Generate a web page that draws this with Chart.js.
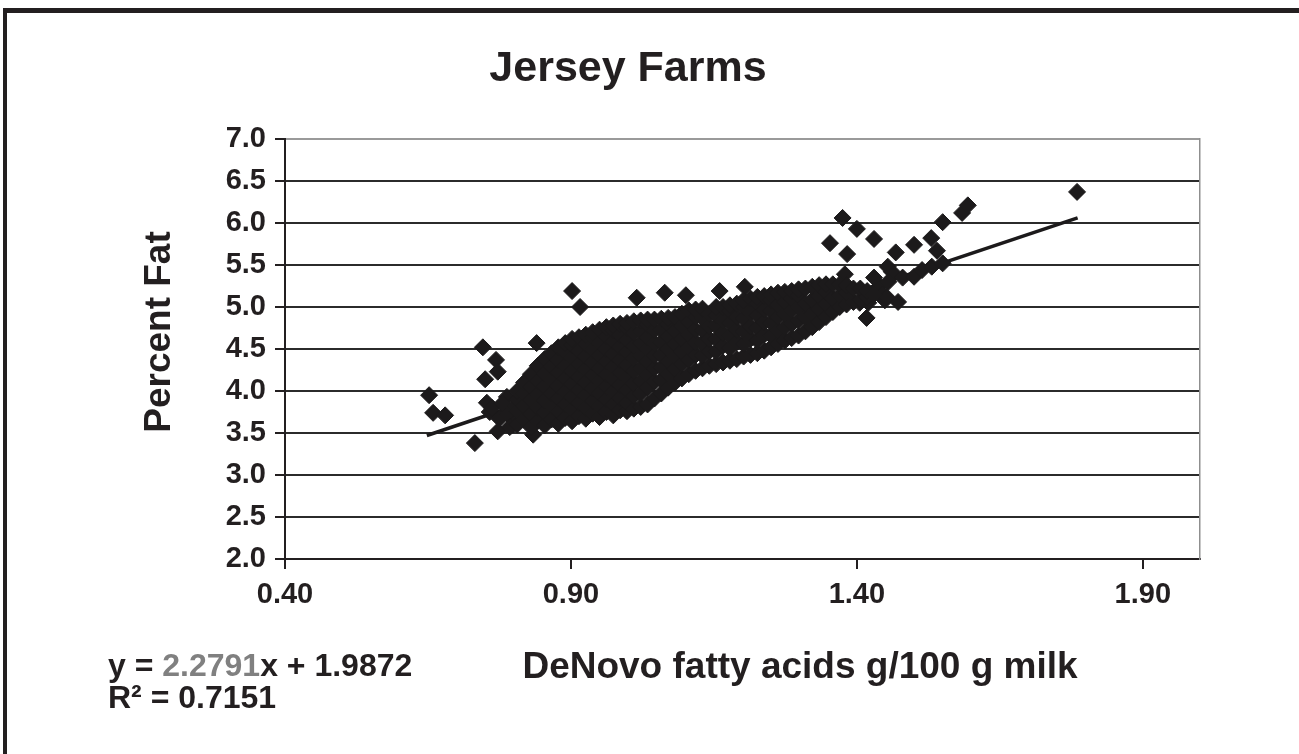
<!DOCTYPE html>
<html>
<head>
<meta charset="utf-8">
<script src="https://cdn.jsdelivr.net/npm/chart.js@4/dist/chart.umd.min.js"></script>
<style>
html,body{margin:0;padding:0;background:#fff;width:1299px;height:754px;overflow:hidden;}
#frame{position:absolute;left:3px;top:8px;width:1300px;height:741px;border-top:5px solid #231f20;border-left:4px solid #231f20;border-bottom:2px solid #6b6b6b;}
#wrap{position:absolute;left:0;top:0;width:1256px;height:754px;}
</style>
</head>
<body>
<div id="frame"></div>
<div id="wrap"><canvas id="c" width="1256" height="754"></canvas></div>
<script>
// ---------- data ----------
const chartTitle = 'Jersey Farms';
const axisTitleX = 'DeNovo fatty acids g/100 g milk';
const axisTitleY = 'Percent Fat';
const equationParts = ['y = ', '2.2791', 'x + 1.9872'];
const rSquaredText = 'R² = 0.7151';

const xTickValues = [0.40, 0.90, 1.40, 1.90];
const xRange = [0.40, 2.00];
const yRange = [2.0, 7.0];
const yTickStep = 0.5;

// trendline end points
const trendX = [0.648, 1.786];
const trendY = [3.47, 6.06];

// isolated farms (x = DeNovo g/100 g, y = % fat)
const outlierPoints = [
  [0.652,3.95],[0.659,3.74],[0.680,3.71],[0.732,3.38],[0.746,4.52],[0.769,4.37],
  [0.772,4.23],[0.750,4.14],[0.840,4.57],[0.788,3.93],[0.753,3.86],[0.758,3.75],
  [0.762,3.80],[0.775,3.67],[0.780,3.85],[0.790,3.72],[0.799,3.60],[0.803,3.82],
  [0.772,3.52],[0.793,3.57],[0.834,3.48],[0.816,3.69],
  [0.902,5.19],[0.916,5.00],[1.015,5.11],[1.064,5.17],[1.101,5.14],[1.160,5.19],[1.204,5.24],
  [1.353,5.76],[1.375,6.06],[1.383,5.63],[1.400,5.93],[1.430,5.81],[1.379,5.39],
  [1.417,4.87],[1.449,5.08],[1.405,5.05],[1.472,5.06],[1.454,5.48],[1.461,5.42],
  [1.480,5.35],[1.500,5.36],[1.514,5.44],[1.531,5.48],[1.550,5.52],[1.468,5.65],
  [1.500,5.74],[1.530,5.82],[1.540,5.67],[1.550,6.01],[1.584,6.12],[1.594,6.21],
  [1.785,6.37],[1.440,5.25],[1.430,5.35],[1.455,5.30],[1.420,5.05],[1.445,5.15],[1.452,5.12]
];

// dense band of farms, listed column by column: [x, [y values]]
const clusterColumns = [
  [0.806, [3.60, 3.76, 3.90, 4.00]],
  [0.818, [3.66, 3.82, 3.97, 4.10]],
  [0.830, [3.57, 3.73, 3.89, 4.05, 4.20]],
  [0.842, [3.64, 3.80, 3.96, 4.12, 4.30]],
  [0.854, [3.59, 3.74, 3.89, 4.05, 4.21, 4.38]],
  [0.866, [3.66, 3.82, 3.97, 4.13, 4.29, 4.45]],
  [0.878, [3.61, 3.76, 3.91, 4.06, 4.22, 4.37, 4.52]],
  [0.890, [3.68, 3.84, 3.99, 4.15, 4.30, 4.46, 4.57]],
  [0.902, [3.64, 3.78, 3.93, 4.08, 4.24, 4.40, 4.55, 4.62]],
  [0.914, [3.70, 3.86, 4.01, 4.17, 4.32, 4.48, 4.64]],
  [0.926, [3.67, 3.80, 3.95, 4.10, 4.26, 4.41, 4.56, 4.67]],
  [0.938, [3.73, 3.88, 4.03, 4.19, 4.34, 4.49, 4.64, 4.70]],
  [0.950, [3.69, 3.82, 3.97, 4.12, 4.27, 4.42, 4.57, 4.73]],
  [0.962, [3.75, 3.90, 4.05, 4.20, 4.35, 4.50, 4.65, 4.76]],
  [0.974, [3.71, 3.84, 3.99, 4.14, 4.29, 4.44, 4.59, 4.72, 4.78]],
  [0.986, [3.77, 3.92, 4.07, 4.22, 4.37, 4.52, 4.67, 4.80]],
  [0.998, [3.76, 3.86, 4.01, 4.16, 4.31, 4.46, 4.61, 4.75, 4.81]],
  [1.010, [3.79, 3.94, 4.09, 4.24, 4.39, 4.54, 4.69, 4.83]],
  [1.022, [3.81, 3.97, 4.12, 4.27, 4.42, 4.57, 4.71, 4.84]],
  [1.034, [3.84, 4.04, 4.19, 4.35, 4.50, 4.64, 4.79, 4.85]],
  [1.046, [3.91, 4.11, 4.27, 4.42, 4.57, 4.72, 4.85]],
  [1.058, [3.97, 4.13, 4.28, 4.43, 4.58, 4.73, 4.86]],
  [1.070, [4.04, 4.20, 4.35, 4.50, 4.65, 4.80, 4.87]],
  [1.082, [4.10, 4.26, 4.41, 4.56, 4.71, 4.88]],
  [1.094, [4.15, 4.32, 4.47, 4.62, 4.77, 4.92]],
  [1.106, [4.20, 4.37, 4.52, 4.67, 4.82, 4.96]],
  [1.118, [4.24, 4.43, 4.58, 4.73, 4.88, 4.97]],
  [1.130, [4.27, 4.42, 4.57, 4.72, 4.87, 4.98]],
  [1.142, [4.30, 4.47, 4.62, 4.77, 4.92]],
  [1.154, [4.32, 4.47, 4.62, 4.77, 4.90, 5.00]],
  [1.166, [4.34, 4.54, 4.69, 4.84, 5.00]],
  [1.178, [4.36, 4.51, 4.66, 4.81, 4.95, 5.02]],
  [1.190, [4.38, 4.58, 4.73, 4.88, 5.04]],
  [1.202, [4.41, 4.56, 4.71, 4.86, 5.00, 5.08]],
  [1.214, [4.43, 4.62, 4.77, 4.93, 5.10]],
  [1.226, [4.45, 4.60, 4.75, 4.90, 5.04, 5.12]],
  [1.238, [4.48, 4.67, 4.82, 4.97, 5.13]],
  [1.250, [4.52, 4.66, 4.81, 4.95, 5.08, 5.15]],
  [1.262, [4.56, 4.72, 4.88, 5.02, 5.17]],
  [1.274, [4.60, 4.76, 4.92, 5.06, 5.18]],
  [1.286, [4.63, 4.80, 4.96, 5.10, 5.19]],
  [1.298, [4.66, 4.84, 5.00, 5.14, 5.21]],
  [1.310, [4.71, 4.88, 5.04, 5.22]],
  [1.322, [4.76, 4.92, 5.08, 5.24]],
  [1.334, [4.82, 4.98, 5.13, 5.26]],
  [1.346, [4.88, 5.04, 5.18, 5.27]],
  [1.358, [4.94, 5.10, 5.27]],
  [1.370, [5.00, 5.14, 5.27]],
  [1.382, [5.03, 5.17, 5.26]],
  [1.394, [5.06, 5.22]],
  [1.406, [5.09, 5.22]],
  [1.418, [5.12, 5.19]],
  [1.430, [5.15]]
];

// ---------- build ----------
const FONT = '"Liberation Sans", Arial, Helvetica, sans-serif';
const INK = '#231f20';

const farmPoints = outlierPoints.map(([x, y]) => ({x, y}));
clusterColumns.forEach(([x, ys]) => ys.forEach(y => farmPoints.push({x, y})));
const trendPoints = trendX.map((x, i) => ({x, y: trendY[i]}));

const overlayText = {
  id: 'overlayText',
  afterDraw(chart, args, o) {
    const ctx = chart.ctx;
    ctx.save();
    ctx.fillStyle = INK;
    ctx.textBaseline = 'alphabetic';
    // x axis title
    ctx.font = 'bold ' + o.xTitle.size + 'px ' + FONT;
    ctx.textAlign = 'center';
    ctx.fillText(axisTitleX, o.xTitle.x, o.xTitle.y);
    // y axis title
    ctx.save();
    ctx.font = 'bold ' + o.yTitle.size + 'px ' + FONT;
    ctx.translate(o.yTitle.x, o.yTitle.y);
    ctx.rotate(-Math.PI / 2);
    ctx.textAlign = 'center';
    ctx.fillText(axisTitleY, 0, 0);
    ctx.restore();
    // regression equation
    ctx.font = 'bold ' + o.eq.size + 'px ' + FONT;
    ctx.textAlign = 'left';
    let x = o.eq.x;
    equationParts.forEach((t, i) => {
      ctx.fillStyle = i === 1 ? o.eq.accent : INK;
      ctx.fillText(t, x, o.eq.y);
      x += ctx.measureText(t).width;
    });
    ctx.fillStyle = INK;
    ctx.fillText(rSquaredText, o.r2.x, o.r2.y);
    ctx.restore();
  }
};

new Chart(document.getElementById('c'), {
  type: 'scatter',
  data: {
    datasets: [
      {
        label: 'Jersey farms',
        data: farmPoints,
        pointStyle: 'rectRot',
        pointRadius: 8.5,
        pointHoverRadius: 8.5,
        backgroundColor: '#1c1a1b',
        borderColor: '#1c1a1b',
        borderWidth: 1
      },
      {
        type: 'line',
        label: 'Linear trend',
        data: trendPoints,
        borderColor: '#1c1a1b',
        borderWidth: 3.5,
        pointRadius: 0,
        fill: false,
        tension: 0
      }
    ]
  },
  options: {
    responsive: false,
    animation: false,
    events: [],
    layout: { padding: { left: 0, right: 0, top: 0, bottom: 0 } },
    plugins: {
      legend: { display: false },
      tooltip: { enabled: false },
      title: {
        display: true,
        text: chartTitle,
        color: INK,
        font: { family: FONT, size: 43, weight: 'bold' },
        padding: { top: 43, bottom: 44.4 }
      },
      overlayText: {
        xTitle: { x: 800, y: 678, size: 37 },
        yTitle: { x: 170, y: 332, size: 37 },
        eq: { x: 108, y: 676, size: 32, accent: '#808080' },
        r2: { x: 108, y: 708 }
      }
    },
    scales: {
      x: {
        type: 'linear',
        min: xRange[0],
        max: xRange[1],
        afterBuildTicks: s => { s.ticks = xTickValues.map(v => ({ value: v })); },
        afterFit: s => { s.height = 195; },
        grid: { drawOnChartArea: false, drawTicks: true, tickLength: 10, color: INK, lineWidth: 2 },
        border: { display: true, color: INK, width: 2 },
        ticks: {
          autoSkip: false, maxRotation: 0, padding: 9, color: INK,
          font: { family: FONT, size: 29, weight: 'bold' },
          callback: v => Number(v).toFixed(2)
        }
      },
      y: {
        type: 'linear',
        min: yRange[0],
        max: yRange[1],
        afterFit: s => { s.width = 285; },
        grid: {
          color: c => (c.tick && c.tick.value === yRange[1]) ? '#9a9a9a' : '#2b2b2b',
          tickColor: INK, lineWidth: 2, drawTicks: true, tickLength: 10
        },
        border: { display: true, color: INK, width: 2 },
        ticks: {
          stepSize: yTickStep, padding: 9, color: INK,
          font: { family: FONT, size: 29, weight: 'bold' },
          callback: v => Number(v).toFixed(1)
        }
      },
      yRight: {
        type: 'linear',
        position: 'right',
        display: true,
        min: yRange[0],
        max: yRange[1],
        afterFit: s => { s.width = 56; },
        grid: { display: false, drawTicks: false },
        border: { display: true, color: '#8f8f8f', width: 1.5 },
        ticks: { display: false }
      }
    }
  },
  plugins: [overlayText]
});
</script>
</body>
</html>
